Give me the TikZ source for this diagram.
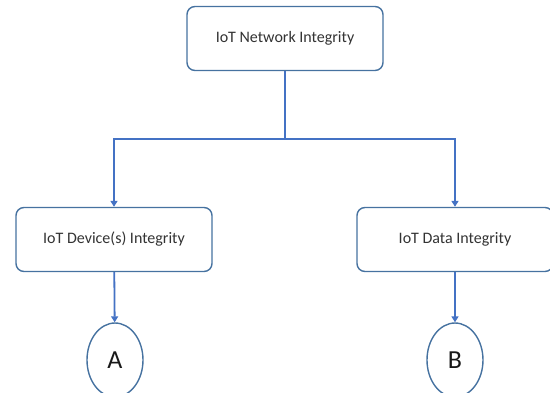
\documentclass[tikz,border=0pt]{standalone}
\usepackage{xcolor}
\usepackage{fontspec}
\setmainfont{Carlito}
\usepackage{tikz}
\usetikzlibrary{arrows.meta,shapes.geometric}

\definecolor{boxline}{RGB}{70,114,160}
\definecolor{linkblue}{RGB}{68,114,196}

\begin{document}
\begin{tikzpicture}[x=1pt,y=-1pt,
  box/.style={draw=boxline,line width=1.4pt,rounded corners=8pt,fill=white,
    minimum width=196pt,minimum height=64pt,font=\fontsize{16}{19}\selectfont,text=black!80},
  leaf/.style={draw=boxline,line width=1.4pt,shape=ellipse,minimum width=56pt,
    minimum height=74pt,inner sep=0pt,font=\fontsize{26}{30}\selectfont,text=black!90},
  link/.style={draw=linkblue,line width=1.8pt},
  linkarrow/.style={link,-{Triangle[width=7pt,length=6pt]}}]
\clip (0,0) rectangle (550,392);
\useasboundingbox (0,0) rectangle (550,392);

\node (net) at (285,38.5)[box]{IoT Network Integrity};

\node (dev) at (114,239.5)[box]{IoT Device(s) Integrity};
\node (data) at (455,239.5)[box]{IoT Data Integrity};

\node (a) at (115,360)[leaf]{A};
\node (b) at (455,360)[leaf]{B};

\coordinate (split) at (285,139);

\draw[link] (net) -- (split);
\draw[linkarrow] (split) -| (dev);
\draw[linkarrow] (split) -| (data);

\draw[linkarrow] (dev) -- (a);
\draw[linkarrow] (data) -- (b);

\end{tikzpicture}
\end{document}
